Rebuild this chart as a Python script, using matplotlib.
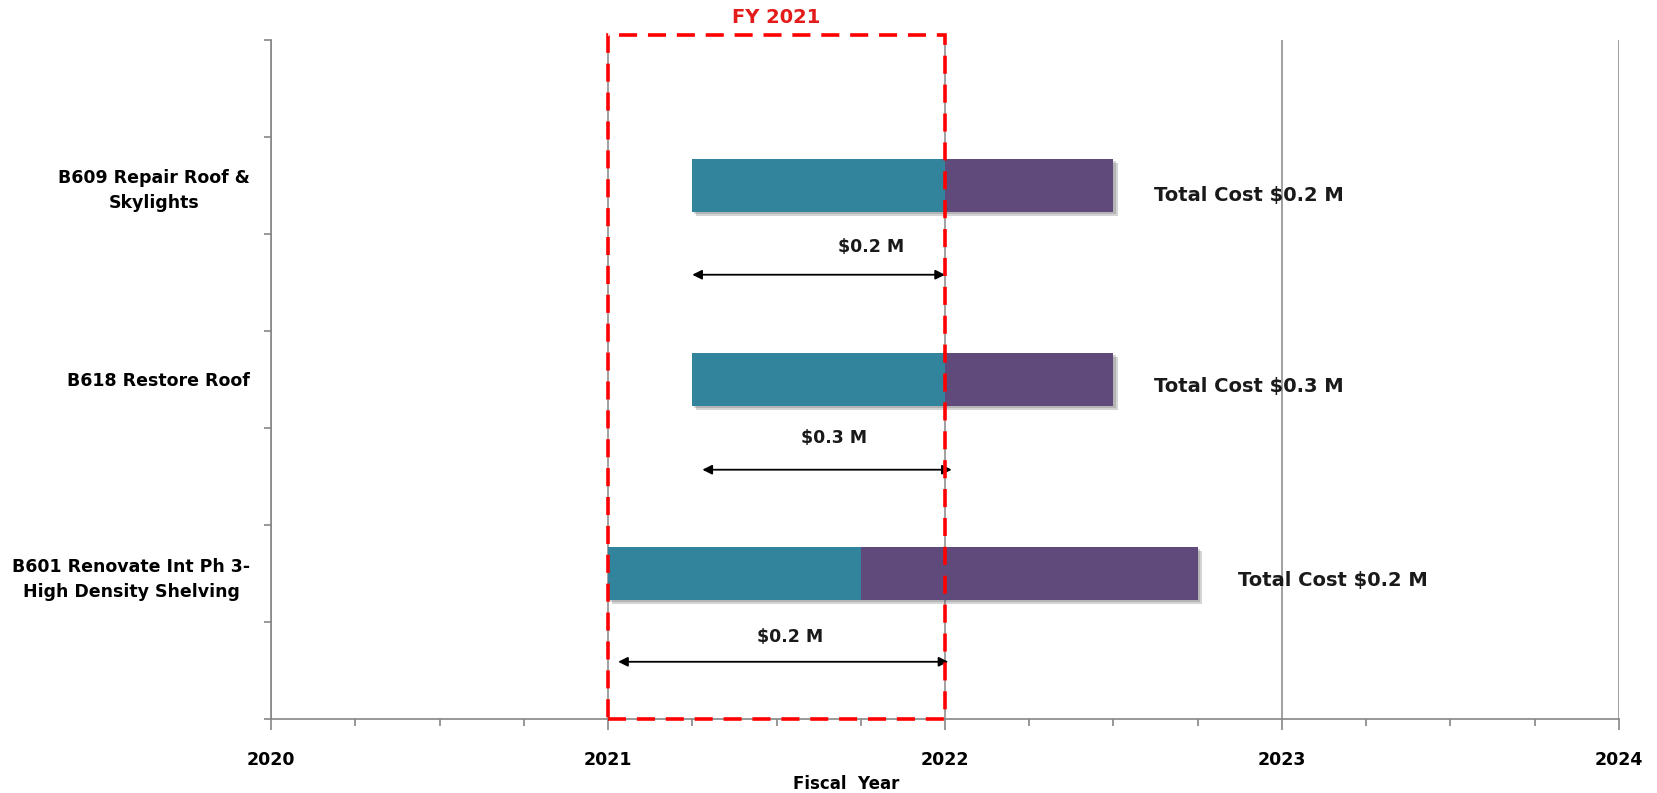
import matplotlib
matplotlib.use('Agg')
import matplotlib.pyplot as plt
import matplotlib.patheffects as pe
from matplotlib.patches import Rectangle
from matplotlib.ticker import MultipleLocator, FixedLocator

plt.rcParams['font.family'] = ['DejaVu Sans']
plt.rcParams['font.weight'] = 'bold'

# project schedule (fiscal years)
projects = ['B609 Repair Roof &\nSkylights', 'B618 Restore Roof',
            'B601 Renovate Int Ph 3-\nHigh Density Shelving']
rows = [5.5, 3.5, 1.5]
start = [2021.25, 2021.25, 2021.0]
fy_end = [2022.0, 2022.0, 2021.75]
finish = [2022.5, 2022.5, 2022.75]

fy_cost = ['$0.2 M', '$0.3 M', '$0.2 M']
total_cost = ['Total Cost $0.2 M', 'Total Cost $0.3 M', 'Total Cost $0.2 M']

# spend arrows under each bar
arrow_y = [4.58, 2.57, 0.59]
arrow_from = [2021.25, 2021.28, 2021.03]
arrow_to = [2022.0, 2022.02, 2022.01]
cost_label_x = [2021.78, 2021.67, 2021.54]
cost_label_y = [4.87, 2.90, 0.85]
total_x = [2022.62, 2022.62, 2022.87]
total_y = [5.40, 3.43, 1.43]

teal = '#31849b'
purple = '#604a7b'
grey = '#868686'

fig = plt.figure(figsize=(16.57, 7.93), dpi=100)
ax = fig.add_axes([0.1636, 0.0933, 0.8134, 0.8563])

shadow = [pe.SimplePatchShadow(offset=(3, -3), shadow_rgbFace='#555555', alpha=0.25),
          pe.SimplePatchShadow(offset=(1.5, -1.5), shadow_rgbFace='#555555', alpha=0.25),
          pe.Normal()]

bar_h = 0.54
for i in range(len(rows)):
    ax.barh(rows[i], fy_end[i] - start[i], left=start[i], height=bar_h,
            color=teal, zorder=3, path_effects=shadow)
    ax.barh(rows[i], finish[i] - fy_end[i], left=fy_end[i], height=bar_h,
            color=purple, zorder=3, path_effects=shadow)
    ax.annotate('', xy=(arrow_from[i], arrow_y[i]), xytext=(arrow_to[i], arrow_y[i]),
                arrowprops=dict(arrowstyle='<|-|>', color='black', lw=1.3,
                                mutation_scale=14, shrinkA=0, shrinkB=0), zorder=4)
    ax.text(cost_label_x[i], cost_label_y[i], fy_cost[i], ha='center', va='center',
            fontsize=12.5, fontweight='bold', color='#1a1a1a', zorder=5)
    ax.text(total_x[i], total_y[i], total_cost[i], ha='left', va='center',
            fontsize=14, fontweight='bold', color='#1a1a1a', zorder=5)

# fiscal year 2021 window
fy_box = Rectangle((2021, 0), 1, 7.05, fill=False, edgecolor='#ff0000', lw=2.6,
                   linestyle=(0, (5, 3)), zorder=6, clip_on=False)
ax.add_patch(fy_box)
ax.text(2021.5, 7.227, 'FY 2021', ha='center', va='center', fontsize=14,
        fontweight='bold', color='#e31b1b', clip_on=False)

ax.set_xlim(2020, 2024)
ax.set_ylim(0, 7)

ax.xaxis.set_minor_locator(MultipleLocator(0.25))
ax.set_xticks([2020, 2021, 2022, 2023, 2024])
ax.set_xticklabels(['2020', '2021', '2022', '2023', '2024'], fontsize=12.5, fontweight='bold')
ax.tick_params(axis='x', which='major', length=8, width=1.2, color=grey, pad=15)
ax.tick_params(axis='x', which='minor', length=5, width=1.2, color=grey)

ax.yaxis.set_major_locator(MultipleLocator(1))
ax.set_yticklabels([])
ax.yaxis.set_minor_locator(FixedLocator(rows))
ax.yaxis.set_ticklabels(projects, minor=True)
ax.tick_params(axis='y', which='major', length=5, width=1.2, color=grey, labelleft=False)
ax.tick_params(axis='y', which='minor', length=0, pad=15, labelsize=12.5)
for lbl in ax.yaxis.get_minorticklabels():
    lbl.set_fontweight('bold')
    lbl.set_multialignment('center')
    lbl.set_linespacing(1.5)

ax.grid(axis='x', which='major', color=grey, lw=1.1, zorder=0)
for side in ['top', 'right']:
    ax.spines[side].set_visible(False)
for side in ['left', 'bottom']:
    ax.spines[side].set_color(grey)
    ax.spines[side].set_linewidth(1.2)

ax.set_xlabel('Fiscal  Year', fontsize=12, fontweight='bold', va='center')
ax.xaxis.set_label_coords(0.427, -0.096)

fig.savefig('out.png', dpi=100, facecolor='white')
